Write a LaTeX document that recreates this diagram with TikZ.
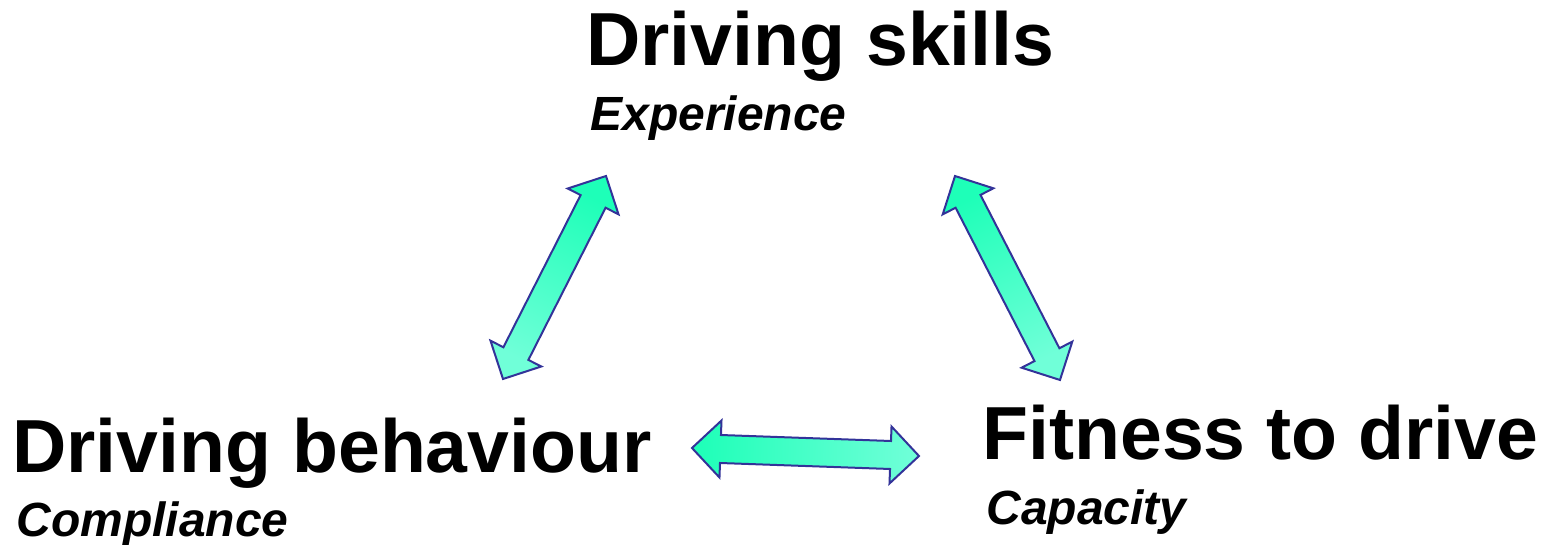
\documentclass[tikz,border=0pt]{standalone}
\usepackage{fontspec}
\setmainfont{Liberation Sans}
\usepackage{xcolor}
\usepackage{tikz}
\usetikzlibrary{shapes.arrows, positioning, calc}
\definecolor{mint}{HTML}{1EFFB8}
\definecolor{palemint}{HTML}{70FFD8}
\definecolor{rim}{HTML}{333399}
\tikzset{
    title/.style = {anchor=base west, inner sep=0pt, font=\fontsize{37.6}{44}\selectfont\bfseries},
    subtitle/.style = {anchor=base west, inner sep=0pt, font=\fontsize{24}{28}\selectfont\bfseries\itshape},
%     block arrow, pointing both ways
    link/.style = {double arrow, draw=rim, line width=1pt, left color=mint, right color=palemint,
                   double arrow head extend=7.25pt, double arrow tip angle=90, inner xsep=0pt, inner ysep=6.5pt},
}
% #1 name, #2 and #3 the two tips (shading runs from #2 to #3)
\newcommand{\twoway}[3]{%
    \path let \p1 = ($(#3)-(#2)$), \n1 = {atan2(\y1,\x1)}, \n2 = {veclen(\x1,\y1)}, \n3 = {\n1+90} in
        node (#1) [link, shading angle=\n3, rotate=\n1, minimum height=\n2] at ($(#2)!0.5!(#3)$) {};
}

\begin{document}
\begin{tikzpicture}[x=0.5pt, y=-0.5pt]
        \useasboundingbox (0,0) rectangle (1544,545);
        % Driving skills
        \node (skills) [title] at (586,66) {Driving skills};
        \node (experience) [subtitle] at ($(skills.base west) + (4,65)$) {Experience};
        % Driving behaviour
        \node (behaviour) [title] at (12,473) {Driving behaviour};
        \node (compliance) [subtitle] at ($(behaviour.base west) + (4,64)$) {Compliance};
        % Fitness to drive
        \node (fitness) [title] at (982,459) {Fitness to drive};
        \node (capacity) [subtitle] at ($(fitness.base west) + (4,65)$) {Capacity};

        % arrow tips
        \coordinate (sb-a) at (606,176);
        \coordinate (sb-b) at (503,379);
        \coordinate (sf-a) at (955,176);
        \coordinate (sf-b) at (1060,380);
        \coordinate (bf-a) at (692,448);
        \coordinate (bf-b) at (919,456);
        % links
        \twoway{sb}{sb-a}{sb-b}
        \twoway{sf}{sf-a}{sf-b}
        \twoway{bf}{bf-a}{bf-b}
    \end{tikzpicture}
\end{document}
